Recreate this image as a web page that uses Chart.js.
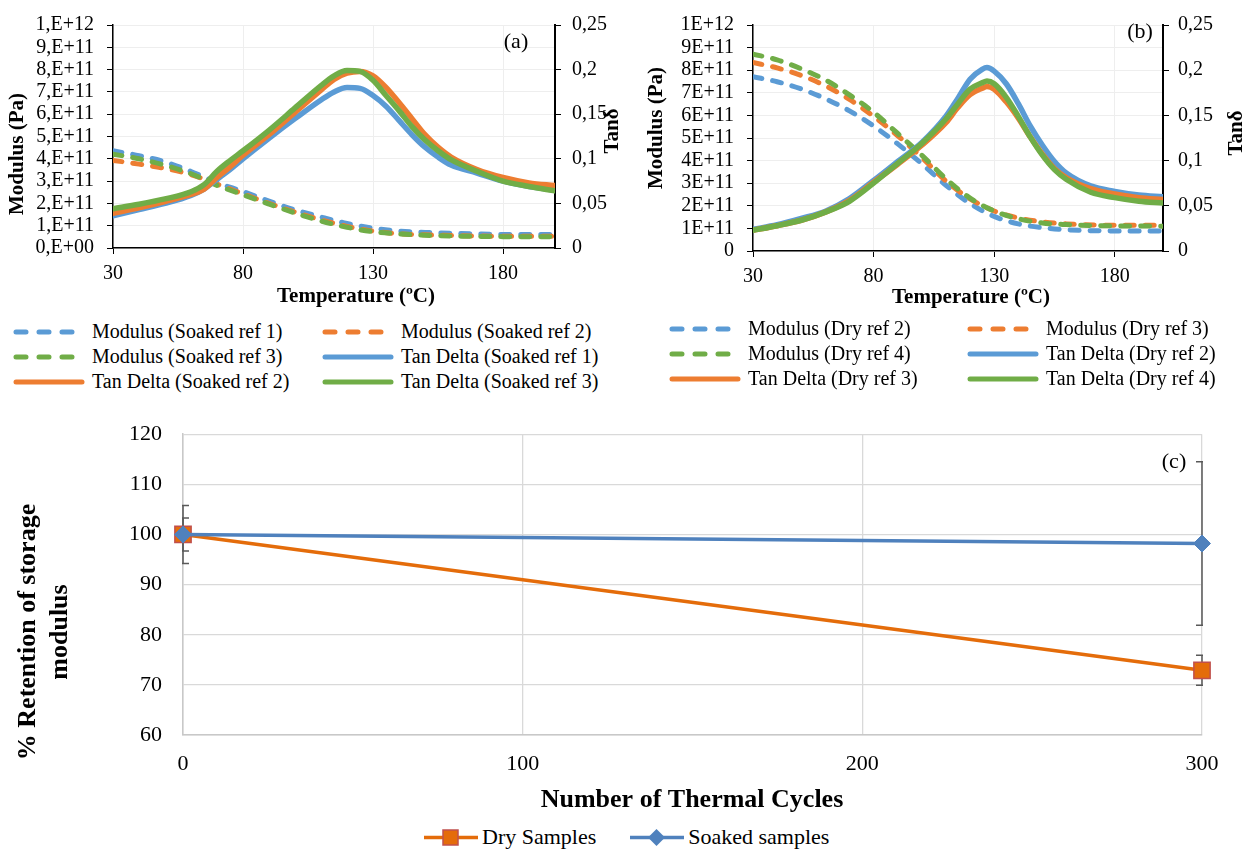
<!DOCTYPE html>
<html>
<head>
<meta charset="utf-8">
<script src="https://cdn.jsdelivr.net/npm/chart.js@4.4.1/dist/chart.umd.min.js"></script>
<style>
  body { margin: 0; background: #fff; width: 1254px; height: 854px; position: relative; overflow: hidden;
         font-family: 'Liberation Serif', 'Tinos', 'Times New Roman', 'DejaVu Serif', serif; color: #000; }
  .box { position: absolute; }
  .leg { position: absolute; display: grid; font-size: 20px; }
  .leg div { display: flex; align-items: center; height: 25px; white-space: nowrap; }
  .leg svg { margin-right: 7px; flex: none; }
  #legC { position: absolute; left: 422px; top: 824px; display: flex; font-size: 22px; }
  #legC div { display: flex; align-items: center; height: 26px; white-space: nowrap; margin-right: 32px; }
  #legC svg { margin-right: 2px; flex: none; }
</style>
</head>
<body>
<div class="box" style="left:0;top:0;width:625px;height:310px"><canvas id="chartA"></canvas></div>
<div class="box" style="left:620px;top:0;width:634px;height:310px"><canvas id="chartB"></canvas></div>
<div class="box" style="left:0;top:400px;width:1254px;height:416px"><canvas id="chartC"></canvas></div>
<div class="leg" id="legA" style="left:13px;top:319px;grid-template-columns:309px 300px"></div>
<div class="leg" id="legB" style="left:669px;top:316px;grid-template-columns:298px 290px"></div>
<div id="legC"></div>
<script>
// ---- data ----
const tempTicks = [30, 80, 130, 180];
const modLabelsA = ['0,E+00', '1,E+11', '2,E+11', '3,E+11', '4,E+11', '5,E+11', '6,E+11', '7,E+11', '8,E+11', '9,E+11', '1,E+12'];
const modLabelsB = ['0', '1E+11', '2E+11', '3E+11', '4E+11', '5E+11', '6E+11', '7E+11', '8E+11', '9E+11', '1E+12'];
const tanLabels = ['0', '0,05', '0,1', '0,15', '0,2', '0,25'];

const modTemps = [30, 40, 50, 60, 70, 80, 90, 100, 110, 120, 130, 140, 150, 160, 180, 200];

// (a) soaked
const modSoaked1 = [4.36e11, 4.14e11, 3.86e11, 3.43e11, 2.93e11, 2.53e11, 2.10e11, 1.71e11, 1.39e11, 1.10e11, 0.89e11, 0.76e11, 0.70e11, 0.66e11, 0.61e11, 0.61e11];
const modSoaked2 = [3.93e11, 3.76e11, 3.57e11, 3.29e11, 2.86e11, 2.43e11, 2.00e11, 1.61e11, 1.26e11, 0.97e11, 0.76e11, 0.64e11, 0.59e11, 0.56e11, 0.53e11, 0.53e11];
const modSoaked3 = [4.21e11, 4.00e11, 3.71e11, 3.33e11, 2.81e11, 2.39e11, 1.97e11, 1.57e11, 1.21e11, 0.93e11, 0.73e11, 0.63e11, 0.57e11, 0.54e11, 0.51e11, 0.50e11];

const tanTempsA = [30, 40, 50, 60, 65, 70, 75, 80, 90, 100, 110, 115, 120, 125, 130, 135, 140, 145, 150, 155, 160, 170, 180, 190, 200];
const tanSoaked1 = [0.036, 0.043, 0.050, 0.059, 0.066, 0.077, 0.088, 0.100, 0.123, 0.145, 0.166, 0.175, 0.180, 0.179, 0.171, 0.159, 0.143, 0.127, 0.113, 0.102, 0.093, 0.084, 0.075, 0.069, 0.065];
const tanSoaked2 = [0.039, 0.045, 0.052, 0.060, 0.066, 0.079, 0.091, 0.104, 0.127, 0.152, 0.177, 0.189, 0.196, 0.198, 0.193, 0.180, 0.163, 0.145, 0.127, 0.113, 0.102, 0.088, 0.079, 0.073, 0.070];
const tanSoaked3 = [0.044, 0.049, 0.055, 0.063, 0.071, 0.086, 0.098, 0.109, 0.132, 0.157, 0.182, 0.193, 0.199, 0.198, 0.188, 0.171, 0.154, 0.136, 0.121, 0.109, 0.099, 0.086, 0.075, 0.069, 0.064];

// (b) dry
const modDry2 = [7.71e11, 7.49e11, 7.17e11, 6.74e11, 6.20e11, 5.53e11, 4.74e11, 3.86e11, 2.91e11, 2.10e11, 1.53e11, 1.20e11, 1.03e11, 0.94e11, 0.89e11, 0.89e11];
const modDry3 = [8.34e11, 8.10e11, 7.77e11, 7.31e11, 6.71e11, 5.96e11, 5.10e11, 4.14e11, 3.10e11, 2.31e11, 1.77e11, 1.46e11, 1.29e11, 1.20e11, 1.14e11, 1.14e11];
const modDry4 = [8.71e11, 8.46e11, 8.06e11, 7.57e11, 6.91e11, 6.14e11, 5.20e11, 4.24e11, 3.20e11, 2.34e11, 1.77e11, 1.43e11, 1.24e11, 1.17e11, 1.11e11, 1.10e11];

const tanTempsB = [30, 40, 50, 60, 70, 80, 90, 100, 110, 115, 120, 125, 127, 130, 135, 140, 145, 150, 155, 160, 170, 180, 190, 200];
const tanDry2 = [0.024, 0.029, 0.036, 0.044, 0.058, 0.078, 0.099, 0.120, 0.149, 0.169, 0.190, 0.201, 0.203, 0.199, 0.185, 0.163, 0.138, 0.117, 0.099, 0.086, 0.072, 0.066, 0.062, 0.060];
const tanDry3 = [0.023, 0.028, 0.034, 0.043, 0.056, 0.076, 0.096, 0.117, 0.142, 0.159, 0.173, 0.180, 0.182, 0.179, 0.165, 0.147, 0.126, 0.107, 0.091, 0.081, 0.069, 0.063, 0.059, 0.057];
const tanDry4 = [0.023, 0.028, 0.034, 0.043, 0.055, 0.075, 0.097, 0.119, 0.146, 0.163, 0.179, 0.186, 0.188, 0.185, 0.170, 0.149, 0.126, 0.106, 0.090, 0.079, 0.065, 0.059, 0.055, 0.053];

// (c) retention
const cycles = [0, 300];
const dryRetention = [100, 72.9];
const dryError = [3.3, 3.0];
const soakedRetention = [100, 98.2];
const soakedError = [5.8, 16.3];

// ---- helpers ----
const serif = "'Liberation Serif', 'Tinos', 'Times New Roman', 'DejaVu Serif', serif";
Chart.defaults.font.family = serif;
Chart.defaults.color = '#000';

const blue = '#5B9BD5', orange = '#ED7D31', green = '#70AD47';

function pts(xs, ys) { return xs.map((x, i) => ({ x: x, y: ys[i] })); }

function modSet(label, color, temps, vals, order) {
  return { label: label, data: pts(temps, vals), yAxisID: 'y', borderColor: color, backgroundColor: color,
           borderWidth: 5, borderDash: [9, 11], borderCapStyle: 'round', order: order };
}
function tanSet(label, color, temps, vals, order) {
  return { label: label, data: pts(temps, vals), yAxisID: 'y2', borderColor: color, backgroundColor: color,
           borderWidth: 5.5, borderCapStyle: 'round', order: order };
}

// text drawn at fixed spots (axis titles, panel letters)
const freeText = {
  id: 'freeText',
  afterDraw(chart, args, opts) {
    const ctx = chart.ctx;
    (opts.items || []).forEach(t => {
      ctx.save();
      ctx.font = t.font;
      ctx.fillStyle = '#000';
      ctx.textAlign = 'center';
      ctx.textBaseline = 'middle';
      ctx.translate(t.x, t.y);
      if (t.rot) ctx.rotate(-Math.PI / 2);
      t.lines.forEach((s, i) => ctx.fillText(s, 0, i * (t.lh || 0)));
      ctx.restore();
    });
  }
};

function dmaChart(id, o) {
  return new Chart(document.getElementById(id), {
    type: 'line',
    data: { datasets: o.datasets },
    plugins: [freeText],
    options: {
      responsive: true, maintainAspectRatio: false, animation: false,
      layout: { padding: { top: o.top, left: 0, right: 0, bottom: 0 } },
      elements: { point: { radius: 0 }, line: { cubicInterpolationMode: 'monotone' } },
      plugins: { legend: { display: false }, tooltip: { enabled: false }, freeText: { items: o.texts } },
      scales: {
        x: {
          type: 'linear', min: 30, max: 200,
          afterBuildTicks: s => { s.ticks = tempTicks.map(v => ({ value: v })); },
          afterFit: s => { s.height = o.xH; },
          grid: { color: '#eeeeee', tickColor: '#000', tickLength: 6 },
          border: { color: '#000', width: 1.5 },
          ticks: { font: { size: 20 }, padding: 8, maxRotation: 0, autoSkip: false, callback: v => v }
        },
        y: {
          position: 'left', min: 0, max: 1e12,
          afterFit: s => { s.width = o.yW; },
          grid: { color: '#eeeeee', tickColor: '#000', tickLength: 6 },
          border: { color: '#000', width: 1.5 },
          ticks: { stepSize: 1e11, font: { size: 20 }, padding: 13, autoSkip: false, callback: (v, i) => o.modLabels[i] }
        },
        y2: {
          position: 'right', min: 0, max: 0.25,
          afterFit: s => { s.width = o.y2W; },
          grid: { drawOnChartArea: false, color: '#000', tickColor: '#000', tickLength: 6 },
          border: { color: '#000', width: 2 },
          ticks: { stepSize: 0.05, font: { size: 20 }, padding: o.y2Pad, autoSkip: false, callback: (v, i) => tanLabels[i] }
        }
      }
    }
  });
}

const titleFont = 'bold 21px ' + serif;
const chartA = dmaChart('chartA', {
  top: 15, yW: 113, y2W: 70, xH: 62, y2Pad: 11, modLabels: modLabelsA,
  datasets: [
    modSet('Modulus (Soaked ref 1)', blue, modTemps, modSoaked1, 6),
    modSet('Modulus (Soaked ref 2)', orange, modTemps, modSoaked2, 5),
    modSet('Modulus (Soaked ref 3)', green, modTemps, modSoaked3, 4),
    tanSet('Tan Delta (Soaked ref 1)', blue, tanTempsA, tanSoaked1, 3),
    tanSet('Tan Delta (Soaked ref 2)', orange, tanTempsA, tanSoaked2, 2),
    tanSet('Tan Delta (Soaked ref 3)', green, tanTempsA, tanSoaked3, 1)
  ],
  texts: [
    { lines: ['Modulus (Pa)'], x: 18, y: 154, rot: true, font: titleFont },
    { lines: ['Temperature (ºC)'], x: 356, y: 297, font: titleFont },
    { lines: ['Tanδ'], x: 613, y: 131, rot: true, font: titleFont },
    { lines: ['(a)'], x: 516, y: 42, font: '22px ' + serif }
  ]
});

const chartB = dmaChart('chartB', {
  top: 17, yW: 133, y2W: 91, xH: 59, y2Pad: 9, modLabels: modLabelsB,
  datasets: [
    modSet('Modulus (Dry ref 2)', blue, modTemps, modDry2, 6),
    modSet('Modulus (Dry ref 3)', orange, modTemps, modDry3, 5),
    modSet('Modulus (Dry ref 4)', green, modTemps, modDry4, 4),
    tanSet('Tan Delta (Dry ref 2)', blue, tanTempsB, tanDry2, 3),
    tanSet('Tan Delta (Dry ref 3)', orange, tanTempsB, tanDry3, 2),
    tanSet('Tan Delta (Dry ref 4)', green, tanTempsB, tanDry4, 1)
  ],
  texts: [
    { lines: ['Modulus (Pa)'], x: 37, y: 128, rot: true, font: titleFont },
    { lines: ['Temperature (ºC)'], x: 351, y: 298, font: titleFont },
    { lines: ['Tanδ'], x: 617, y: 133, rot: true, font: titleFont },
    { lines: ['(b)'], x: 520, y: 32, font: '22px ' + serif }
  ]
});

// error bars for (c), clipped to the plot like the original
const errorBars = {
  id: 'errorBars',
  beforeDatasetsDraw(chart) {
    const { ctx, chartArea: a, scales: { x, y } } = chart;
    ctx.save();
    ctx.beginPath();
    ctx.rect(a.left - 1, a.top, a.width + 2, a.height);
    ctx.clip();
    ctx.strokeStyle = '#595959';
    ctx.lineWidth = 1.5;
    chart.data.datasets.forEach(ds => {
      ds.data.forEach((p, i) => {
        const e = ds.errors[i];
        const px = x.getPixelForValue(p.x);
        const top = y.getPixelForValue(p.y + e), bot = y.getPixelForValue(p.y - e);
        ctx.beginPath();
        ctx.moveTo(px, top); ctx.lineTo(px, bot);
        ctx.moveTo(px - 6, top); ctx.lineTo(px + 6, top);
        ctx.moveTo(px - 6, bot); ctx.lineTo(px + 6, bot);
        ctx.stroke();
      });
    });
    ctx.restore();
  }
};

const gridGrey = '#d9d9d9';
const chartC = new Chart(document.getElementById('chartC'), {
  type: 'line',
  data: {
    datasets: [
      { label: 'Dry Samples', data: pts(cycles, dryRetention), errors: dryError,
        borderColor: '#E46C0A', backgroundColor: '#E46C0A', borderWidth: 3.5,
        pointStyle: 'rect', pointRadius: 11.5, pointBackgroundColor: '#E46C0A',
        pointBorderColor: '#C0504D', pointBorderWidth: 1.5, clip: false, order: 2 },
      { label: 'Soaked samples', data: pts(cycles, soakedRetention), errors: soakedError,
        borderColor: '#4F81BD', backgroundColor: '#4F81BD', borderWidth: 3.5,
        pointStyle: 'rectRot', pointRadius: 8.5, pointBackgroundColor: '#4F81BD',
        pointBorderColor: '#4F81BD', pointBorderWidth: 1, clip: false, order: 1 }
    ]
  },
  plugins: [errorBars, freeText],
  options: {
    responsive: true, maintainAspectRatio: false, animation: false,
    layout: { padding: { top: 33, right: 52, left: 0, bottom: 0 } },
    plugins: {
      legend: { display: false }, tooltip: { enabled: false },
      freeText: { items: [
        { lines: ['% Retention of storage', 'modulus'], x: 28, y: 232, lh: 32, rot: true, font: 'bold 26px ' + serif },
        { lines: ['Number of Thermal Cycles'], x: 692, y: 400, font: 'bold 26px ' + serif },
        { lines: ['(c)'], x: 1174, y: 62, font: '22px ' + serif }
      ] }
    },
    scales: {
      x: {
        type: 'linear', min: 0, max: 300,
        afterFit: s => { s.height = 81; },
        grid: { color: gridGrey, lineWidth: 1.3, drawTicks: false },
        border: { color: '#c8c8c8', width: 1.5 },
        ticks: { stepSize: 100, font: { size: 22 }, padding: 16, maxRotation: 0 }
      },
      y: {
        min: 60, max: 120,
        afterFit: s => { s.width = 183; },
        grid: { color: gridGrey, lineWidth: 1.3, drawTicks: false },
        border: { color: '#c8c8c8', width: 1.5 },
        ticks: { stepSize: 10, font: { size: 22 }, padding: 21, autoSkip: false }
      }
    }
  }
});

// ---- html legends ----
function lineLegend(id, chart) {
  const el = document.getElementById(id);
  chart.data.datasets.forEach(ds => {
    const dashed = !!ds.borderDash;
    const item = document.createElement('div');
    item.innerHTML = '<svg width="72" height="10"><line x1="3" y1="5" x2="' + (dashed ? 64 : 69) +
      '" y2="5" stroke="' + ds.borderColor + '" stroke-width="5" stroke-linecap="round"' +
      (dashed ? ' stroke-dasharray="10 13"' : '') + '/></svg><span>' + ds.label + '</span>';
    el.appendChild(item);
  });
}
lineLegend('legA', chartA);
lineLegend('legB', chartB);

(function () {
  const el = document.getElementById('legC');
  chartC.data.datasets.forEach(ds => {
    const marker = ds.pointStyle === 'rect'
      ? '<rect x="21" y="3" width="15" height="15" fill="' + ds.pointBackgroundColor + '" stroke="' + ds.pointBorderColor + '" stroke-width="1.5"/>'
      : '<polygon points="28.5,2 37,10.5 28.5,19 20,10.5" fill="' + ds.pointBackgroundColor + '"/>';
    const item = document.createElement('div');
    item.innerHTML = '<svg width="58" height="21"><line x1="2" y1="10.5" x2="56" y2="10.5" stroke="' + ds.borderColor +
      '" stroke-width="3.5"/>' + marker + '</svg><span>' + ds.label + '</span>';
    el.appendChild(item);
  });
})();
</script>
</body>
</html>
